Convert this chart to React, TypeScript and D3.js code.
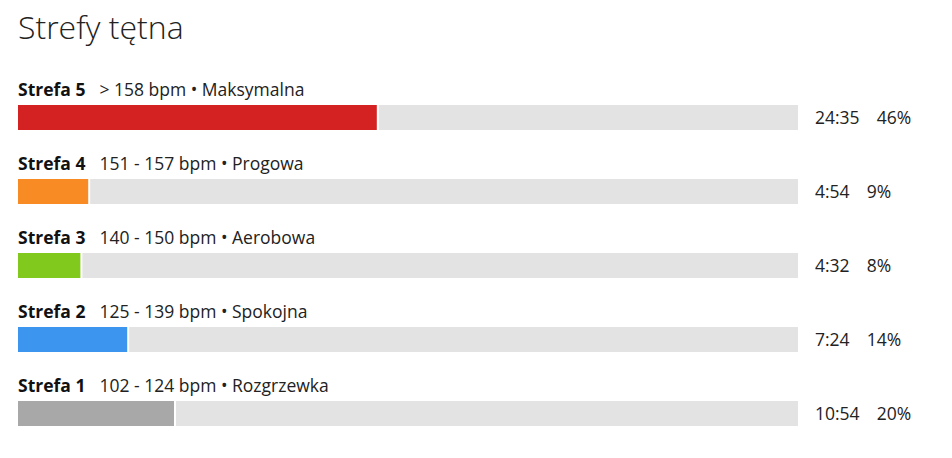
import React from 'react';
import * as d3 from 'd3';

const zones = ['Strefa 5', 'Strefa 4', 'Strefa 3', 'Strefa 2', 'Strefa 1'];
const ranges = ['> 158 bpm', '151 - 157 bpm', '140 - 150 bpm', '125 - 139 bpm', '102 - 124 bpm'];
const names = ['Maksymalna', 'Progowa', 'Aerobowa', 'Spokojna', 'Rozgrzewka'];
const durations = ['24:35', '4:54', '4:32', '7:24', '10:54'];
const percents = [46, 9, 8, 14, 20];
const colors = ['#d42121', '#f98b25', '#82c91e', '#3c95ee', '#a8a8a8'];

const W = 952;
const H = 458;
const FONT = "'Open Sans', 'Noto Sans', sans-serif";

export default function App() {
  const x = d3.scaleLinear().domain([0, 100]).range([18, 798]);
  const y = d3.scaleBand<string>().domain(zones).range([77, 77 + zones.length * 74]);
  const barH = 25;

  return (
    <svg
      width={W}
      height={H}
      viewBox={`0 0 ${W} ${H}`}
      style={{ position: 'absolute', left: 0, top: 0, background: '#fff' }}
      fontFamily={FONT}
    >
      <text x={18} y={39} fontSize={32} fontWeight={300} fill="#222">
        Strefy tętna
      </text>
      {zones.map((z, i) => {
        const top = y(z) ?? 0;
        const barTop = top + 28;
        const end = x(percents[i]);
        return (
          <g key={z}>
            <text x={18} y={top + 19} fontSize={17.5} fill="#111">
              <tspan fontWeight={700}>{z}</tspan>
              <tspan dx={14} fontWeight={400} fill="#222">
                {`${ranges[i]} • ${names[i]}`}
              </tspan>
            </text>
            <rect x={end + 2} y={barTop} width={x(100) - end - 2} height={barH} fill="#e3e3e3" />
            <rect x={x(0)} y={barTop} width={end - x(0)} height={barH} fill={colors[i]} />
            <text x={815} y={barTop + 18.5} fontSize={17.5} fill="#222">
              <tspan>{durations[i]}</tspan>
              <tspan dx={17}>{`${percents[i]}%`}</tspan>
            </text>
          </g>
        );
      })}
    </svg>
  );
}
